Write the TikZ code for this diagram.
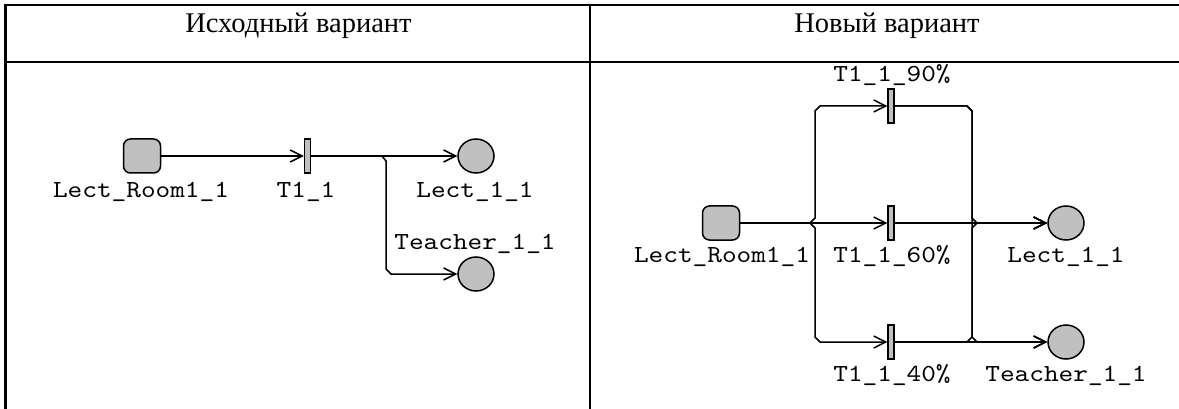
\documentclass[tikz,border=0pt]{standalone}
\usepackage{fontspec}
\setmainfont{Liberation Serif}
\newfontfamily\labelfont{lmmono10-regular}[Extension=.otf,FakeStretch=1.14]
\usetikzlibrary{arrows.meta,shapes.geometric}
\definecolor{netgray}{HTML}{C0C0C0}
\tikzset{
  rule/.style={line width=2.6pt},
  head/.style={font=\fontsize{28.5}{30}\selectfont, anchor=base, inner sep=0pt},
  lbl/.style={font=\labelfont\fontsize{24.5}{26}\selectfont, anchor=base, inner sep=0pt},
  room/.style={draw, line width=1.5pt, fill=netgray, rounded corners=7pt,
    minimum width=37pt, minimum height=34pt, inner sep=0pt},
  place/.style={draw, ellipse, line width=1.5pt, fill=netgray,
    minimum width=36pt, minimum height=34pt, inner sep=0pt},
  bar/.style={draw, line width=1.3pt, fill=netgray,
    minimum width=6pt, minimum height=34pt, inner sep=0pt},
  arc/.style={line width=1.5pt, -{Straight Barb[length=12pt,width=12pt]}},
}
\begin{document}
\begin{tikzpicture}[x=1pt,y=-1pt]
\useasboundingbox (0,0) rectangle (1179,409);

% table frame
\draw[rule] (5.5,5) -- (1179,5);
\draw[rule] (5.5,62) -- (1179,62);
\draw[rule] (5.5,3.7) -- (5.5,409);
\draw[rule] (590,3.7) -- (590,409);

% column headers
\node[head] (hleft) at (298.5,33) {Исходный вариант};
\node[head] (hright) at (887,33) {Новый вариант};

% ---- original net ----
\node[room]  (room1)  at (142,156) {};
\node[bar]   (tr1)    at (307.5,156) {};
\node[place] (lect1)  at (476,156) {};
\node[place] (teach1) at (476,274) {};

\node[lbl] (nroom1)  at (141,198) {Lect\_Room1\_1};
\node[lbl] (ntr1)    at (306,198) {T1\_1};
\node[lbl] (nlect1)  at (475,198) {Lect\_1\_1};
\node[lbl] (nteach1) at (475,249) {Teacher\_1\_1};

\coordinate (a1) at (382,156);
\coordinate (a2) at (386,161);
\coordinate (a3) at (386,269);
\coordinate (a4) at (391,274);

\draw[arc] (room1.east) -- (tr1.west);
\draw[arc] (tr1.east) -- (lect1.west);
\draw[arc] (tr1.east) -- (a1) -- (a2) -- (a3) -- (a4) -- (teach1.west);

% ---- split net ----
\node[room]  (room2)  at (721,223) {};
\node[bar]   (tr90)   at (891,106) {};
\node[bar]   (tr60)   at (891,223) {};
\node[bar]   (tr40)   at (891,342) {};
\node[place] (lect2)  at (1066,223) {};
\node[place] (teach2) at (1066,342) {};

\node[lbl] (ntr90)   at (892,82)   {T1\_1\_90\%};
\node[lbl] (nroom2)  at (722,262)  {Lect\_Room1\_1};
\node[lbl] (ntr60)   at (892,262)  {T1\_1\_60\%};
\node[lbl] (nlect2)  at (1066,262) {Lect\_1\_1};
\node[lbl] (ntr40)   at (892,381)  {T1\_1\_40\%};
\node[lbl] (nteach2) at (1066,381) {Teacher\_1\_1};

% input bus
\coordinate (i0) at (810,223);
\coordinate (iu1) at (815,218);
\coordinate (iu2) at (815,111);
\coordinate (iu3) at (820,106);
\coordinate (id1) at (815,228);
\coordinate (id2) at (815,337);
\coordinate (id3) at (820,342);

% output bus
\coordinate (o90a) at (967,106);
\coordinate (o90b) at (972,111);
\coordinate (omu)  at (972,218);
\coordinate (omd)  at (972,228);
\coordinate (om)   at (977,223);
\coordinate (obu)  at (972,337);
\coordinate (obr)  at (977,342);
\coordinate (obl)  at (967,342);

\draw[arc] (room2.east) -- (tr60.west);
\draw[arc] (room2.east) -- (i0) -- (iu1) -- (iu2) -- (iu3) -- (tr90.west);
\draw[arc] (room2.east) -- (i0) -- (id1) -- (id2) -- (id3) -- (tr40.west);

\draw[arc] (tr60.east) -- (lect2.west);
\draw[arc] (tr40.east) -- (teach2.west);
\draw[arc] (tr90.east) -- (o90a) -- (o90b) -- (omu) -- (om) -- (lect2.west);
\draw[arc] (tr90.east) -- (o90a) -- (o90b) -- (obu) -- (obr) -- (teach2.west);
\draw[arc] (tr40.east) -- (obl) -- (obu) -- (omd) -- (om) -- (lect2.west);
\end{tikzpicture}
\end{document}
